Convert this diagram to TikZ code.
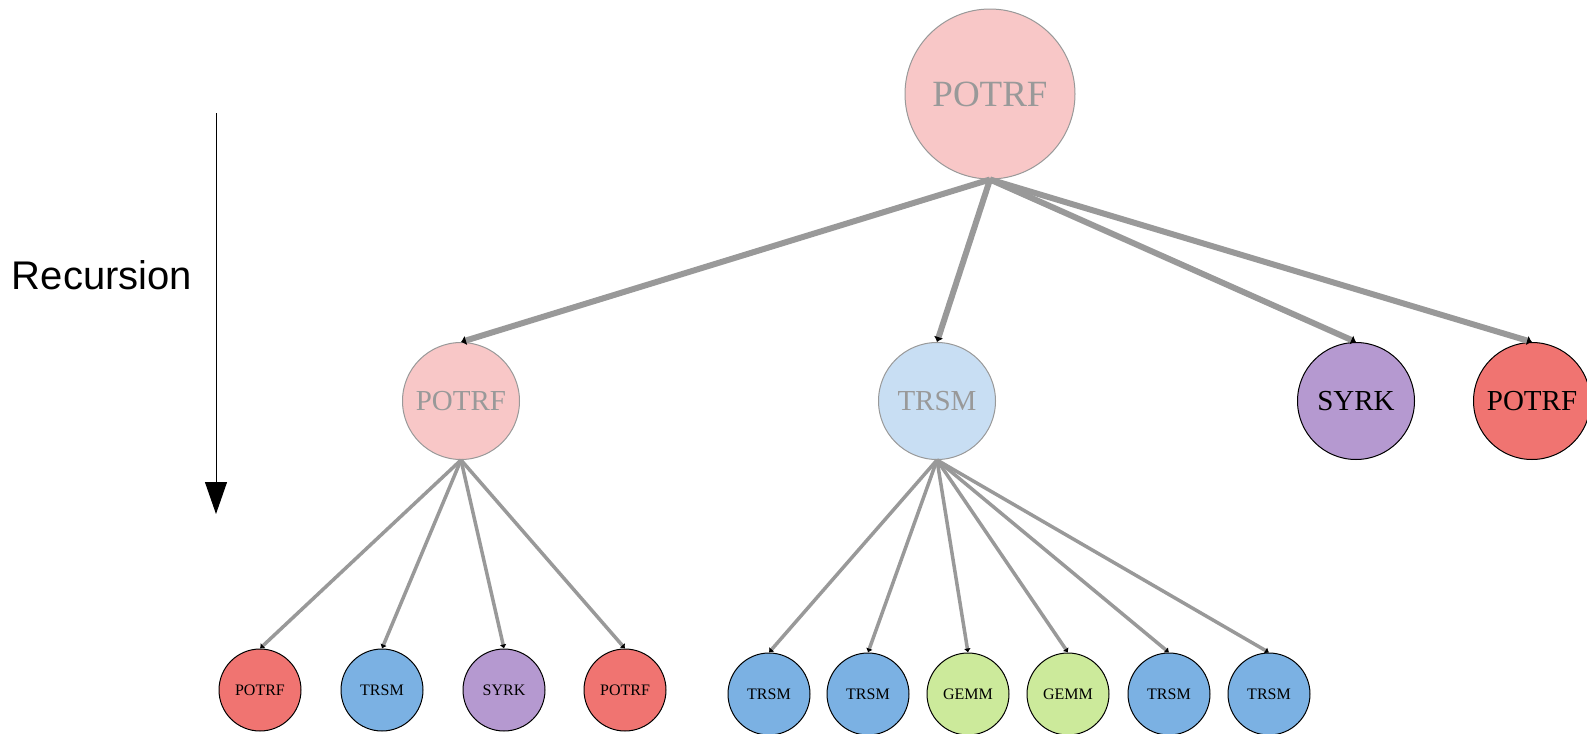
\documentclass[tikz,border=0pt]{standalone}
\usepackage{fontspec}
\setmainfont{Liberation Serif}
\newfontfamily\recfont{Liberation Sans}
\usetikzlibrary{arrows.meta}

\definecolor{edgegray}{HTML}{999999}
\definecolor{palepink}{HTML}{F8C7C7}
\definecolor{paleblue}{HTML}{C8DEF3}
\definecolor{potrfred}{HTML}{F07471}
\definecolor{syrkpurple}{HTML}{B599D0}
\definecolor{trsmblue}{HTML}{7BB1E3}
\definecolor{gemmgreen}{HTML}{CCEA9B}

\begin{document}
\begin{tikzpicture}[x=0.5pt, y=-0.5pt,
  task/.style={circle, draw=black, line width=0.5pt, inner sep=0pt},
  faded/.style={task, draw=edgegray, text=edgegray},
  big/.style={minimum size=85pt, font=\fontsize{18.5}{20}\selectfont},
  mid/.style={minimum size=58.5pt, font=\fontsize{14.5}{16}\selectfont},
  small/.style={minimum size=41pt, font=\fontsize{8}{9}\selectfont},
  rootedge/.style={draw=edgegray, line width=3pt, -{Latex[black,length=2.5pt,width=5pt]}},
  subedge/.style={draw=edgegray, line width=1.75pt, -{Latex[black,length=2pt,width=3.5pt]}}]
  \useasboundingbox (0,0) rectangle (1587,734);

  \coordinate (rtop) at (216,113);
  \coordinate (rbot) at (216,514);
  \draw[line width=0.5pt, -{Triangle[length=16pt,width=11pt]}] (rtop) -- (rbot);
  \node (rec) at (102,275) {\recfont\fontsize{20}{24}\selectfont Recursion};

  \node[faded, big, fill=palepink] (r) at (990,94) {POTRF};

  \node[faded, mid, fill=palepink] (p) at (461,401) {POTRF};
  \node[faded, mid, fill=paleblue] (t) at (937,401) {TRSM};
  \node[task, mid, fill=syrkpurple] (s) at (1356,401) {SYRK};
  \node[task, mid, fill=potrfred] (q) at (1532,401) {POTRF};

  \node[task, small, fill=potrfred] (p1) at (260,690) {POTRF};
  \node[task, small, fill=trsmblue] (p2) at (382,690) {TRSM};
  \node[task, small, fill=syrkpurple] (p3) at (504,690) {SYRK};
  \node[task, small, fill=potrfred] (p4) at (625,690) {POTRF};

  \node[task, small, fill=trsmblue] (t1) at (769,694) {TRSM};
  \node[task, small, fill=trsmblue] (t2) at (868,694) {TRSM};
  \node[task, small, fill=gemmgreen] (t3) at (968,694) {GEMM};
  \node[task, small, fill=gemmgreen] (t4) at (1068,694) {GEMM};
  \node[task, small, fill=trsmblue] (t5) at (1169,694) {TRSM};
  \node[task, small, fill=trsmblue] (t6) at (1269,694) {TRSM};

  \draw[rootedge] (r.south) -- (p.north);
  \draw[rootedge] (r.south) -- (t.north);
  \draw[rootedge] (r.south) -- (s.north);
  \draw[rootedge] (r.south) -- (q.north);

  \draw[subedge] (p.south) -- (p1.north);
  \draw[subedge] (p.south) -- (p2.north);
  \draw[subedge] (p.south) -- (p3.north);
  \draw[subedge] (p.south) -- (p4.north);

  \draw[subedge] (t.south) -- (t1.north);
  \draw[subedge] (t.south) -- (t2.north);
  \draw[subedge] (t.south) -- (t3.north);
  \draw[subedge] (t.south) -- (t4.north);
  \draw[subedge] (t.south) -- (t5.north);
  \draw[subedge] (t.south) -- (t6.north);
\end{tikzpicture}
\end{document}
